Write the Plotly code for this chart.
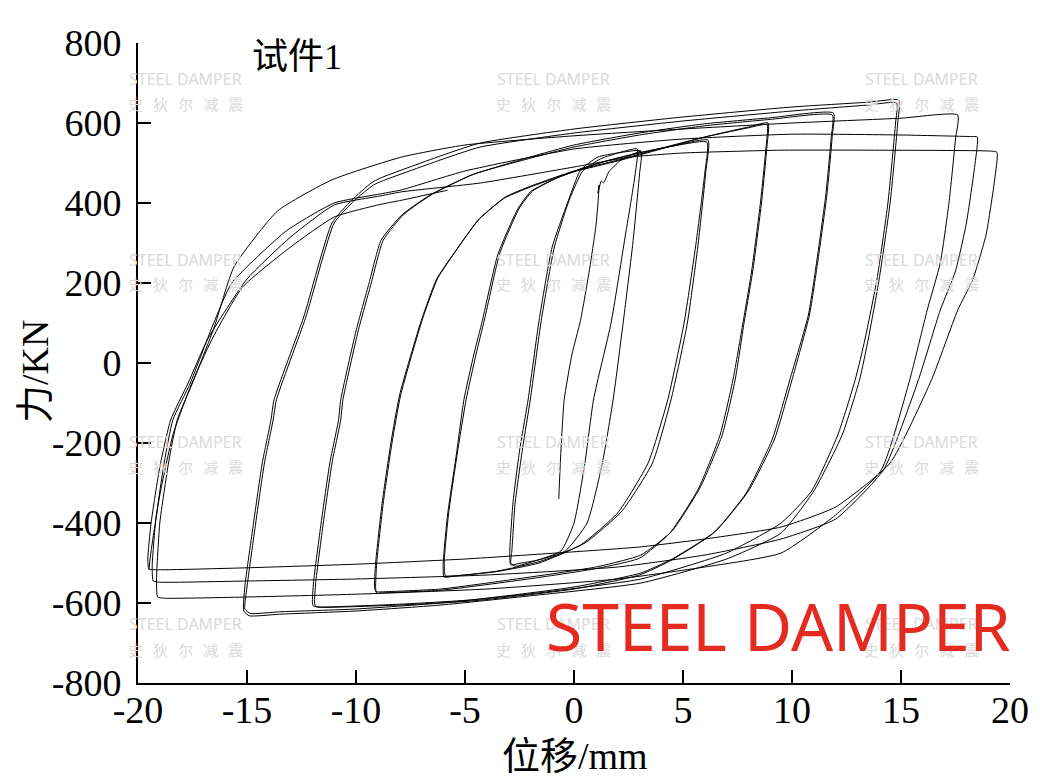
import plotly.graph_objects as go

# ---------------- data (displacement mm, force kN) ----------------
INIT_X = [-0.7, -0.6, -0.45, -0.1, 0.3, 0.7, 1.0, 1.1, 1.15, 1.1, 1.25, 1.35, 1.6, 2.1, 2.6, 3.07]
INIT_F = [-340, -220, -92, 20, 107, 230, 340, 400, 445, 425, 455, 450, 478, 505, 520, 530]

L3A_X = [3.07, 3.0, 2.7, 2.3, 1.8, 1.3, 0.6, -0.4, -1.6, -2.6, -2.9, -2.95, -2.8, -2.5, -2.1, -1.6, -1.0, -0.3, 0.3, 1.1, 2.0, 3.07]
L3A_F = [530, 470, 300, 120, -90, -250, -400, -470, -492, -502, -505, -480, -350, -220, -90, 107, 290, 400, 482, 515, 525, 530]
L3B_X = [2.9, 2.8, 2.3, 1.7, 0.9, 0.5, 0.0, -0.6, -1.8, -2.7, -2.9, -2.85, -2.7, -2.35, -2.0, -1.5, -0.9, -0.2, 0.4, 1.2, 2.2, 2.9]
L3B_F = [535, 470, 300, 100, -90, -250, -400, -470, -495, -508, -500, -470, -350, -210, -90, 107, 290, 410, 480, 510, 528, 535]

L6A_X = [6.15, 6.05, 5.7, 5.2, 4.45, 3.6, 2.2, 0.5, -1.5, -3.5, -5.5, -5.96, -6.0, -5.8, -5.4, -5.05, -4.6, -4.2, -3.5, -2.6, -2.0, -0.9, 0.3, 1.5, 3.0, 4.5, 6.15]
L6A_F = [557, 480, 300, 100, -92, -250, -370, -450, -495, -520, -533, -535, -500, -380, -230, -92, 20, 107, 270, 383, 428, 460, 485, 505, 525, 542, 557]
L6B_X = [6.1, 6.0, 5.6, 5.05, 4.3, 3.4, 2.0, 0.3, -1.6, -3.6, -5.5, -5.9, -5.95, -5.75, -5.35, -4.95, -4.5, -4.1, -3.4, -2.5, -1.9, -0.8, 0.4, 1.6, 3.1, 4.6, 6.1]
L6B_F = [552, 475, 300, 100, -92, -250, -375, -455, -500, -522, -532, -532, -495, -375, -225, -92, 20, 110, 275, 388, 430, 462, 487, 507, 527, 543, 552]

L9A_X = [8.9, 8.85, 8.6, 8.2, 7.8, 7.4, 6.8, 5.8, 4.5, 3.07, 1.0, -2.0, -6.1, -8.8, -9.08, -9.15, -9.1, -8.8, -8.4, -8.0, -7.0, -6.3, -5.5, -4.4, -3.2, -2.0, 0.0, 2.0, 4.0, 6.0, 8.0, 8.9]
L9A_F = [600, 540, 400, 230, 100, -40, -180, -310, -420, -480, -510, -535, -565, -572, -572, -560, -500, -350, -200, -80, 107, 210, 275, 357, 412, 440, 478, 505, 535, 565, 590, 600]
L9B_X = [8.85, 8.8, 8.55, 8.15, 7.75, 7.3, 6.7, 5.7, 4.4, 3.0, 0.9, -2.1, -6.1, -8.85, -9.05, -9.1, -9.05, -8.75, -8.35, -7.95, -6.95, -6.25, -5.45, -4.35, -3.15, -1.95, 0.0, 2.0, 4.0, 6.0, 8.0, 8.85]
L9B_F = [596, 535, 400, 230, 100, -40, -180, -315, -425, -488, -515, -540, -568, -575, -576, -563, -500, -350, -200, -80, 110, 212, 278, 360, 415, 443, 480, 507, 537, 565, 588, 596]

L12A_X = [11.9, 11.85, 11.6, 11.2, 10.8, 10.0, 9.2, 8.0, 6.5, 4.5, 3.07, 0.0, -4.7, -8.0, -11.6, -11.95, -12.0, -11.95, -11.6, -11.2, -10.8, -10.7, -10.0, -9.4, -8.85, -7.9, -6.6, -4.7, -2.0, 0.0, 3.0, 6.0, 9.0, 11.9]
L12A_F = [625, 570, 420, 260, 120, -42, -190, -320, -420, -490, -525, -560, -592, -603, -610, -608, -600, -550, -400, -250, -142, -92, 80, 200, 307, 370, 420, 470, 515, 545, 575, 598, 613, 625]
L12B_X = [11.85, 11.8, 11.55, 11.15, 10.75, 9.9, 9.1, 7.9, 6.4, 4.4, 3.0, 0.0, -4.7, -8.0, -11.5, -11.85, -11.9, -11.85, -11.5, -11.1, -10.7, -10.6, -9.9, -9.3, -8.75, -7.8, -6.5, -4.6, -2.0, 0.0, 3.0, 6.0, 9.0, 11.85]
L12B_F = [620, 565, 420, 260, 120, -42, -190, -325, -425, -495, -530, -565, -595, -605, -611, -609, -600, -550, -400, -250, -142, -92, 80, 200, 307, 372, 422, 472, 512, 540, 570, 593, 609, 620]

L15A_X = [14.9, 14.85, 14.5, 14.0, 13.5, 13.1, 12.3, 11.0, 9.5, 7.0, 3.07, -2.0, -6.1, -10.0, -13.5, -14.9, -15.15, -15.1, -14.7, -14.3, -13.9, -13.76, -12.4, -11.1, -10.2, -9.3, -8.9, -6.0, -4.3, 0.0, 5.0, 10.0, 13.5, 14.9]
L15A_F = [657, 600, 400, 210, 60, -42, -180, -320, -425, -490, -550, -582, -605, -620, -628, -632, -620, -560, -400, -250, -142, -92, 115, 350, 407, 450, 462, 520, 550, 585, 615, 640, 652, 657]
L15B_X = [14.8, 14.75, 14.4, 13.9, 13.35, 12.9, 12.1, 10.9, 9.5, 7.0, 3.07, -2.0, -6.1, -10.0, -13.5, -14.85, -15.1, -15.0, -14.6, -14.2, -13.8, -13.65, -12.3, -11.0, -10.1, -9.2, -8.8, -6.0, -4.3, 0.0, 5.0, 10.0, 13.5, 14.8]
L15B_F = [650, 600, 400, 210, 60, -42, -180, -320, -400, -475, -540, -577, -600, -615, -622, -626, -615, -560, -400, -250, -142, -92, 115, 350, 405, 445, 455, 510, 540, 575, 605, 630, 645, 650]

L19A_X = [17.6, 17.5, 17.2, 16.8, 16.2, 15.4, 14.1, 12.0, 9.5, 6.0, 2.0, -4.0, -10.0, -15.0, -18.8, -19.1, -19.15, -19.0, -18.6, -18.2, -17.5, -16.5, -15.6, -13.6, -11.1, -7.9, -5.0, 0.0, 5.0, 10.0, 15.0, 17.6]
L19A_F = [620, 560, 400, 250, 132, -42, -267, -380, -475, -510, -540, -565, -578, -585, -588, -585, -540, -400, -250, -142, -50, 90, 240, 380, 458, 515, 545, 568, 585, 600, 612, 620]
L19B_X = [18.5, 18.4, 18.0, 17.5, 16.8, 15.8, 14.2, 12.0, 9.5, 6.0, 2.0, -4.0, -10.0, -15.0, -19.0, -19.3, -19.35, -19.2, -18.8, -18.4, -17.6, -16.6, -15.7, -13.2, -11.0, -8.85, -7.9, -5.0, 0.0, 5.0, 10.0, 15.0, 18.2, 18.5]
L19B_F = [565, 500, 350, 230, 132, -42, -267, -390, -440, -480, -510, -530, -540, -545, -548, -545, -510, -400, -250, -142, -50, 90, 200, 330, 400, 423, 433, 480, 535, 560, 572, 570, 566, 565]
L19C_X = [19.4, 19.3, 18.9, 18.3, 17.6, 16.4, 14.5, 12.0, 9.5, 6.0, 3.0, 0.0, -5.0, -10.0, -15.0, -19.2, -19.5, -19.55, -19.4, -19.0, -18.5, -17.7, -16.8, -15.0, -13.0, -11.0, -8.85, -7.9, -4.3, 0.0, 2.6, 5.0, 9.5, 14.0, 19.0, 19.4]
L19C_F = [527, 460, 320, 210, 132, -42, -250, -360, -410, -440, -460, -472, -490, -503, -512, -517, -515, -490, -400, -260, -142, -50, 60, 210, 315, 395, 418, 428, 450, 490, 515, 525, 532, 532, 530, 527]
FINAL_X = [-19.5, -19.4, -19.0, -18.4, -17.6, -16.6, -15.2, -13.0, -11.0, -9.0, -7.9, -5.8]
FINAL_F = [-517, -470, -330, -180, -60, 60, 190, 290, 365, 395, 407, 432]

X_TICKS = [-20, -15, -10, -5, 0, 5, 10, 15, 20]
X_TICK_LABELS = ["-20", "-15", "-10", "-5", "0", "5", "10", "15", "20"]
Y_TICKS = [-800, -600, -400, -200, 0, 200, 400, 600, 800]
Y_TICK_LABELS = ["-800", "-600", "-400", "-200", "0", "200", "400", "600", "800"]

TITLE_TEXT = "试件1"
X_TITLE = "位移/mm"
Y_TITLE = "力/KN"

CYCLES = [
    (INIT_X, INIT_F), (L3A_X, L3A_F), (L3B_X, L3B_F), (L6A_X, L6A_F), (L6B_X, L6B_F),
    (L9A_X, L9A_F), (L9B_X, L9B_F), (L12A_X, L12A_F), (L12B_X, L12B_F),
    (L15A_X, L15A_F), (L15B_X, L15B_F), (L19A_X, L19A_F), (L19B_X, L19B_F),
    (L19C_X, L19C_F), (FINAL_X, FINAL_F),
]

# ---------------- figure ----------------
# the page's body margin is removed (post_script), so figure pixels == page pixels
W, H = 1040, 780
ML, MR, MT, MB = 138, 30, 43, 97
PW, PH = W - ML - MR, H - MT - MB


def px(xp):
    """page pixel x -> paper fraction"""
    return (xp - ML) / PW


def py(yp):
    """page pixel y -> paper fraction"""
    return (H - MB - yp) / PH


fig = go.Figure()
for cx, cf in CYCLES:
    fig.add_trace(go.Scatter(
        x=cx, y=cf, mode="lines",
        line=dict(color="black", width=1, shape="spline", smoothing=0.5),
        hoverinfo="skip", showlegend=False,
    ))

SERIF = "Liberation Serif, Noto Sans CJK SC, serif"

axis_common = dict(
    showgrid=False, zeroline=False, showline=True, linecolor="black", linewidth=2,
    ticks="inside", ticklen=13, tickwidth=2, tickcolor="black",
    tickfont=dict(family=SERIF, size=38, color="black"), mirror=False,
)
fig.update_xaxes(range=[-20, 20], tickmode="array", tickvals=X_TICKS, ticktext=X_TICK_LABELS,
                 ticklabelstandoff=-8, **axis_common)
fig.update_yaxes(range=[-800, 800], tickmode="array", tickvals=Y_TICKS, ticktext=Y_TICK_LABELS,
                 ticklabelstandoff=7, **axis_common)

annotations = []
# watermarks
WM_COLS = [185, 553, 921]
WM_ROWS = [(79, 103), (260, 283), (442, 466), (624, 649)]
for cxp in WM_COLS:
    for ry1, ry2 in WM_ROWS:
        annotations.append(dict(x=px(cxp), y=py(ry1), xref="paper", yref="paper", showarrow=False,
                                text="STEEL DAMPER", xanchor="center", yanchor="middle",
                                font=dict(family="Noto Sans", size=16, color="#dadada")))
        annotations.append(dict(x=px(cxp), y=py(ry2), xref="paper", yref="paper", showarrow=False,
                                text="史   狄   尔   减   震", xanchor="center", yanchor="middle",
                                font=dict(family="Noto Sans CJK SC", size=15, color="#dadada")))
# big red watermark
annotations.append(dict(x=px(778), y=py(625), xref="paper", yref="paper", showarrow=False,
                        text="STEEL DAMPER", xanchor="center", yanchor="middle",
                        font=dict(family="Noto Sans", size=66, color="#e52a1f")))
# title inside plot
annotations.append(dict(x=px(297), y=py(57), xref="paper", yref="paper", showarrow=False,
                        text=TITLE_TEXT, xanchor="center", yanchor="middle",
                        font=dict(family=SERIF, size=36, color="black")))
# axis titles
annotations.append(dict(x=px(575), y=py(756), xref="paper", yref="paper", showarrow=False,
                        text=X_TITLE, xanchor="center", yanchor="middle",
                        font=dict(family=SERIF, size=38, color="black")))
annotations.append(dict(x=px(35), y=py(372), xref="paper", yref="paper", showarrow=False,
                        text=Y_TITLE, xanchor="center", yanchor="middle", textangle=-90,
                        font=dict(family=SERIF, size=38, color="black")))

fig.update_layout(
    width=W, height=H, margin=dict(l=ML, r=MR, t=MT, b=MB, pad=0),
    paper_bgcolor="white", plot_bgcolor="white",
    annotations=annotations, showlegend=False,
)

fig.write_html(
    "out.html",
    config={"displayModeBar": False},
    post_script="document.body.style.margin='0px';document.body.style.overflow='hidden';",
)
